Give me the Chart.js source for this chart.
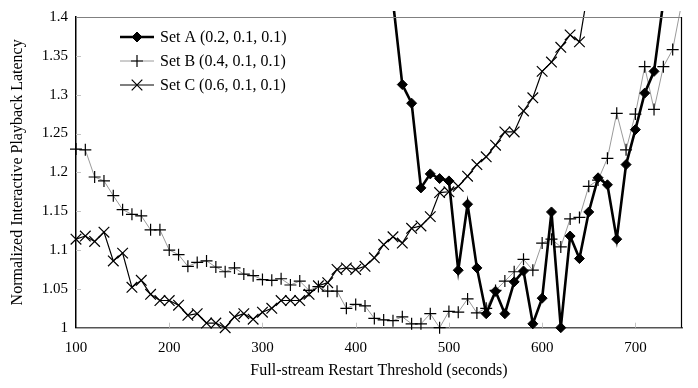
<!DOCTYPE html>
<html>
<head>
<meta charset="utf-8">
<script src="https://cdn.jsdelivr.net/npm/chart.js@4.4.1/dist/chart.umd.min.js"></script>
<style>
  html, body { margin: 0; padding: 0; background: #ffffff; }
  #wrap { width: 698px; height: 388px; position: relative; }
</style>
</head>
<body>
<div id="wrap"><canvas id="c" width="698" height="388"></canvas></div>
<script>
// Restart threshold categories (seconds)
const thresholds = [100,110,120,130,140,150,160,170,180,190,200,210,220,230,240,250,260,270,280,290,
  300,310,320,330,340,350,360,370,380,390,400,410,420,430,440,450,460,470,480,490,
  500,510,520,530,540,550,560,570,580,590,600,610,620,630,640,650,660,670,680,690,
  700,710,720,730,740,750];

// Set A (0.2, 0.1, 0.1) — off scale (above 1.4) before 440
const setA = [null,null,null,null,null,null,null,null,null,null,null,null,null,null,null,null,null,
  null,null,null,null,null,null,null,null,null,null,null,null,null,null,null,null,null,
  1.42,1.313,1.289,1.180,1.198,1.192,1.189,1.074,1.159,1.077,1.018,1.047,1.018,1.059,1.073,1.005,
  1.038,1.149,1.000,1.118,1.089,1.149,1.193,1.184,1.114,1.210,1.255,1.302,1.330,1.42,null,null];

// Set B (0.4, 0.1, 0.1)
const setB = [1.230,1.229,1.194,1.189,1.170,1.152,1.146,1.144,1.126,1.126,
  1.100,1.094,1.079,1.084,1.086,1.078,1.072,1.077,1.069,1.067,
  1.062,1.061,1.063,1.055,1.060,1.048,1.053,1.047,1.047,1.025,
  1.030,1.028,1.012,1.010,1.009,1.014,1.005,1.005,1.018,1.000,
  1.021,1.020,1.037,1.019,1.025,1.048,1.060,1.072,1.088,1.074,
  1.109,1.114,1.104,1.140,1.142,1.182,1.190,1.218,1.276,1.229,
  1.275,1.336,1.281,1.336,1.358,1.42];

// Set C (0.6, 0.1, 0.1)
const setC = [1.114,1.118,1.111,1.123,1.086,1.096,1.052,1.061,1.043,1.035,
  1.035,1.029,1.016,1.018,1.006,1.006,1.000,1.014,1.018,1.011,
  1.020,1.025,1.035,1.035,1.035,1.043,1.054,1.058,1.075,1.077,
  1.075,1.079,1.090,1.107,1.117,1.109,1.128,1.131,1.143,1.174,
  1.175,1.182,1.195,1.210,1.220,1.235,1.252,1.252,1.279,1.296,
  1.330,1.342,1.361,1.377,1.368,1.44,null,null,null,null,
  null,null,null,null,null,null];

const seriesNames = ['Set A (0.2, 0.1, 0.1)', 'Set B (0.4, 0.1, 0.1)', 'Set C (0.6, 0.1, 0.1)'];
const xTickValues = [100,200,300,400,500,600,700];
const yTickLabels = ['1','1.05','1.1','1.15','1.2','1.25','1.3','1.35','1.4'];
const xTitle = 'Full-stream Restart Threshold (seconds)';
const yTitle = 'Normalized Interactive Playback Latency';

const FONT = '"Liberation Serif", "Times New Roman", serif';
const toXY = arr => thresholds.map((x, i) => ({ x: x, y: arr[i] }));
const clipBox = { left: 8, top: 6, right: 8, bottom: 8 };

const frameAndLegend = {
  id: 'frameAndLegend',
  afterDatasetsDraw(chart) {
    const ctx = chart.ctx, a = chart.chartArea;
    const xs = chart.scales.x, ys = chart.scales.y;
    ctx.save();
    // inward tick marks
    ctx.strokeStyle = '#c4c4c4';
    ctx.lineWidth = 1;
    xTickValues.forEach(v => {
      if (v === 100) return;
      const px = Math.round(xs.getPixelForValue(v)) + 0.5;
      ctx.beginPath(); ctx.moveTo(px, a.bottom); ctx.lineTo(px, a.bottom - 5); ctx.stroke();
    });
    yTickLabels.forEach(t => {
      const v = parseFloat(t);
      if (v <= 1 || v >= 1.4) return;
      const py = Math.round(ys.getPixelForValue(v)) + 0.5;
      ctx.beginPath(); ctx.moveTo(a.left, py); ctx.lineTo(a.left + 5, py); ctx.stroke();
    });
    // top border (gray) and right border (black)
    ctx.strokeStyle = '#808080';
    ctx.lineWidth = 1.2;
    ctx.beginPath(); ctx.moveTo(a.left, a.top + 0.5); ctx.lineTo(a.right, a.top + 0.5); ctx.stroke();
    ctx.strokeStyle = '#000';
    ctx.lineWidth = 1.2;
    ctx.beginPath(); ctx.moveTo(a.right - 0.5, a.top); ctx.lineTo(a.right - 0.5, a.bottom); ctx.stroke();

    // legend inside plot area
    const rows = [37, 61, 85];
    chart.data.datasets.forEach((ds, i) => {
      const y = rows[i];
      const x0 = 120, x1 = 154, xm = 137;
      ctx.strokeStyle = ds.borderColor;
      ctx.lineWidth = ds.borderWidth;
      ctx.beginPath(); ctx.moveTo(x0, y); ctx.lineTo(x1, y); ctx.stroke();
      ctx.strokeStyle = ds.pointBorderColor;
      ctx.fillStyle = ds.pointBackgroundColor;
      ctx.lineWidth = ds.pointBorderWidth;
      Chart.helpers.drawPoint(ctx, {
        pointStyle: ds.pointStyle, radius: ds.pointRadius, rotation: 0, borderWidth: ds.pointBorderWidth
      }, xm, y);
      ctx.fillStyle = '#000';
      ctx.font = '16px ' + FONT;
      ctx.textBaseline = 'middle';
      ctx.textAlign = 'left';
      ctx.fillText(ds.label, 160, y + 1);
    });
    ctx.restore();
  }
};

new Chart(document.getElementById('c'), {
  type: 'line',
  data: {
    datasets: [
      {
        label: seriesNames[0], data: toXY(setA),
        borderColor: '#000', borderWidth: 2.6,
        pointStyle: 'rectRot', pointRadius: 5, pointBorderWidth: 1,
        pointBorderColor: '#000', pointBackgroundColor: '#000',
        clip: clipBox, spanGaps: false
      },
      {
        label: seriesNames[1], data: toXY(setB),
        borderColor: '#9a9a9a', borderWidth: 1,
        pointStyle: 'cross', pointRadius: 6, pointBorderWidth: 1.2,
        pointBorderColor: '#000', pointBackgroundColor: '#000',
        clip: clipBox
      },
      {
        label: seriesNames[2], data: toXY(setC),
        borderColor: '#000', borderWidth: 1.2,
        pointStyle: 'crossRot', pointRadius: 7.5, pointBorderWidth: 1.2,
        pointBorderColor: '#000', pointBackgroundColor: '#000',
        clip: clipBox, spanGaps: false
      }
    ]
  },
  options: {
    responsive: false,
    animation: false,
    events: [],
    layout: { padding: { top: 11, right: 16, left: 0, bottom: 0 } },
    elements: { line: { tension: 0 } },
    plugins: { legend: { display: false }, tooltip: { enabled: false } },
    scales: {
      x: {
        type: 'linear', min: 100, max: 750,
        afterBuildTicks: s => { s.ticks = xTickValues.map(v => ({ value: v })); },
        afterFit: s => { s.height = 60.3; },
        grid: { display: false, drawTicks: false },
        border: { display: true, color: '#555', width: 1.5 },
        ticks: { color: '#000', font: { family: FONT, size: 15 }, padding: 11, maxRotation: 0, autoSkip: false },
        title: { display: true, text: xTitle, color: '#000', font: { family: FONT, size: 16 }, padding: { top: 0, bottom: 8 } }
      },
      y: {
        type: 'linear', min: 1, max: 1.4,
        afterBuildTicks: s => { s.ticks = yTickLabels.map(t => ({ value: parseFloat(t) })); },
        afterFit: s => { s.width = 76; },
        grid: { display: false, drawTicks: false },
        border: { display: true, color: '#000', width: 1.5 },
        ticks: {
          color: '#000', font: { family: FONT, size: 15 }, padding: 8, autoSkip: false,
          callback: (v) => { const i = yTickLabels.findIndex(t => Math.abs(parseFloat(t) - v) < 1e-9); return i >= 0 ? yTickLabels[i] : ''; }
        },
        title: { display: true, text: yTitle, color: '#000', font: { family: FONT, size: 16 }, padding: { top: 8, bottom: 0 } }
      }
    }
  },
  plugins: [frameAndLegend]
});
</script>
</body>
</html>
